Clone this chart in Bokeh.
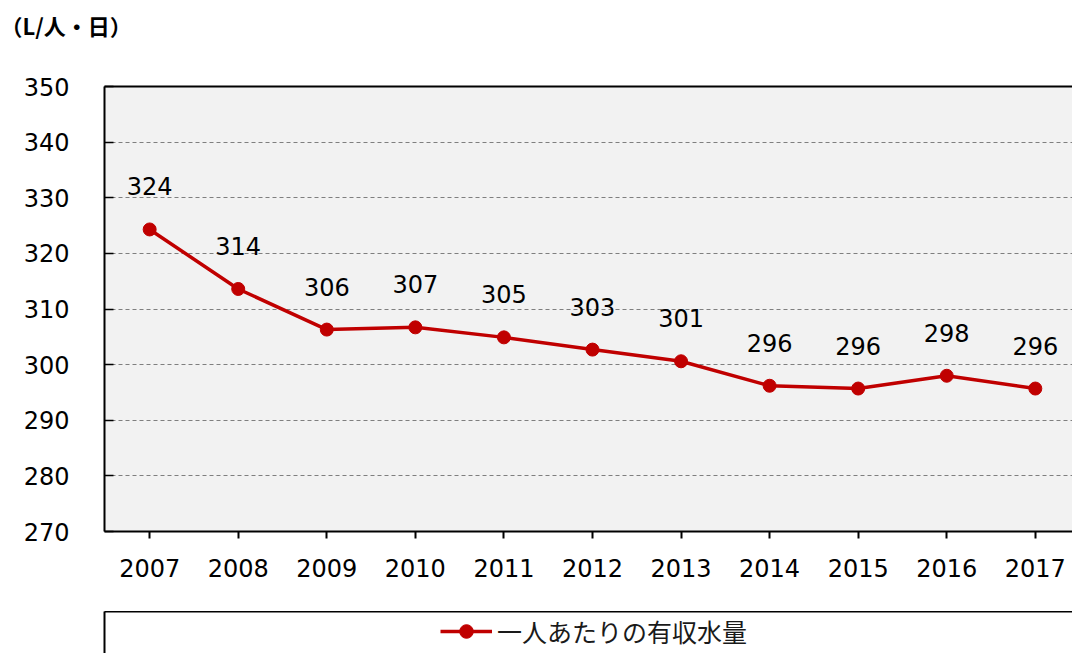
from bokeh.plotting import figure
from bokeh.models import (Range1d, FixedTicker, LinearAxis, Label, Legend, LegendItem,
                          ColumnDataSource)
from bokeh.layouts import column
from bokeh.core.properties import value
from bokeh.embed import file_html
from bokeh.resources import INLINE

# ---- data ----
years = ["2007", "2008", "2009", "2010", "2011", "2012", "2013", "2014", "2015", "2016", "2017"]
water = [324.3, 313.6, 306.3, 306.7, 304.9, 302.7, 300.6, 296.2, 295.7, 298.0, 295.7]
y_ticks = [270, 280, 290, 300, 310, 320, 330, 340, 350]
series_name = "一人あたりの有収水量"
unit_label = "（L/人・日）"

RED = "#c00000"
NUM_FONT = "DejaVu Sans"
JP_FONT = "Noto Sans CJK JP"

W = 1072
H0 = 56            # header strip (unit label)
H1 = 611 - H0      # main chart
H2 = 42            # legend strip
FRAME_TOP, FRAME_BOTTOM, FRAME_LEFT = 86, 531, 104


def bare_axis():
    return LinearAxis(ticker=FixedTicker(ticks=[]), major_label_text_font_size="0px",
                      axis_line_width=2, axis_line_color="black",
                      major_tick_line_color=None, minor_tick_line_color=None)


# ---- header with unit label ----
h = figure(width=W, height=H0, output_backend="svg", toolbar_location=None,
           x_range=Range1d(0, 1), y_range=Range1d(0, 1),
           min_border_left=0, min_border_right=0, min_border_top=0, min_border_bottom=0,
           x_axis_location=None, y_axis_location=None)
try:
    h.frame_align = False
    label_x = 0
except Exception:
    label_x = 0
h.outline_line_color = None
h.grid.grid_line_color = None
h.background_fill_color = "white"
h.add_layout(Label(x=label_x, y=H0 - 24, x_units="screen", y_units="screen",
                   text=unit_label, text_font=JP_FONT, text_font_style="bold",
                   text_font_size="22px", text_color="black", text_baseline="middle",
                   text_align="left"))

# ---- main chart ----
xs = list(range(len(years)))
src = ColumnDataSource(dict(x=xs, y=water, lbl=[f"{v:.0f}" for v in water]))

p = figure(width=W, height=H1, output_backend="svg", toolbar_location=None,
           x_range=Range1d(-0.51, 10.42), y_range=Range1d(y_ticks[0], y_ticks[-1]),
           min_border_left=FRAME_LEFT, min_border_right=0, min_border_top=FRAME_TOP - H0,
           min_border_bottom=H0 + H1 - FRAME_BOTTOM, border_fill_color="white")
p.outline_line_color = None
p.background_fill_color = "#f2f2f2"

p.xaxis.ticker = FixedTicker(ticks=xs)
p.xaxis.major_label_overrides = {i: y for i, y in enumerate(years)}
p.xaxis.minor_tick_line_color = None
p.xaxis.major_tick_in = 0
p.xaxis.major_tick_out = 7
p.xaxis.major_tick_line_width = 2
p.xaxis.axis_line_width = 2
p.xaxis.axis_line_color = "black"
p.xaxis.major_label_text_font = NUM_FONT
p.xaxis.major_label_text_font_size = "24px"
p.xaxis.major_label_text_color = "black"
p.xaxis.major_label_standoff = 20

p.yaxis.ticker = FixedTicker(ticks=y_ticks)
p.yaxis.minor_tick_line_color = None
p.yaxis.major_tick_in = 9
p.yaxis.major_tick_out = 0
p.yaxis.major_tick_line_width = 1.5
p.yaxis.axis_line_width = 2
p.yaxis.axis_line_color = "black"
p.yaxis.major_label_text_font = NUM_FONT
p.yaxis.major_label_text_font_size = "24px"
p.yaxis.major_label_text_color = "black"
p.yaxis.major_label_standoff = 35

p.add_layout(bare_axis(), "above")

p.xgrid.grid_line_color = None
p.ygrid.ticker = FixedTicker(ticks=y_ticks[1:-1])
p.ygrid.grid_line_color = "#7f7f7f"
p.ygrid.grid_line_dash = "4 3"
p.ygrid.grid_line_width = 1

p.line("x", "y", source=src, line_color=RED, line_width=3.5)
p.scatter("x", "y", source=src, size=13, fill_color=RED, line_color=RED)
p.text("x", "y", text="lbl", source=src, text_font=value(NUM_FONT), text_font_size="24px",
       text_align="center", text_baseline="middle", y_offset=-43, text_color="black")

# ---- legend strip ----
q = figure(width=W, height=H2, output_backend="svg", toolbar_location=None,
           x_range=Range1d(0, 1), y_range=Range1d(0, 1),
           min_border_left=FRAME_LEFT, min_border_right=0, min_border_top=0, min_border_bottom=0,
           x_axis_location=None, y_axis_location=None)
q.outline_line_color = None
q.grid.grid_line_color = None
q.background_fill_color = "white"
q.add_layout(bare_axis(), "above")
q.add_layout(bare_axis(), "left")

# off-screen sample glyphs, only used for the legend swatch
r1 = q.line([-10, -9], [-10, -10], line_color=RED, line_width=3.5)
r2 = q.scatter([-10], [-10], size=13, fill_color=RED, line_color=RED)
leg = Legend(items=[LegendItem(label=series_name, renderers=[r1, r2])],
             location=(336, 4), padding=0, margin=0, glyph_width=52, glyph_height=34,
             label_standoff=5, label_text_font=JP_FONT, label_text_font_size="25px",
             label_text_color="#1a1a1a", border_line_color=None, background_fill_alpha=0)
q.add_layout(leg, "center")

layout = column(h, p, q, spacing=0)
open("out.html", "w").write(file_html(layout, INLINE))
